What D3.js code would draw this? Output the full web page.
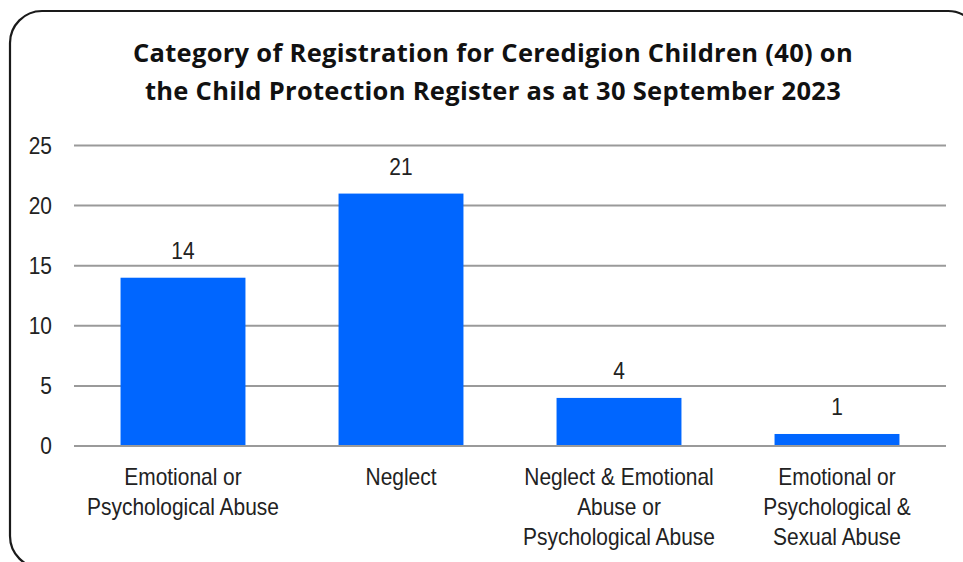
<!DOCTYPE html>
<html>
<head>
<meta charset="utf-8">
<script src="https://cdn.jsdelivr.net/npm/d3@7"></script>
<style>
  body { margin: 0; background: #fff; }
  svg { display: block; }
</style>
</head>
<body>
<div id="chart"></div>
<script>
var categories = [
  ["Emotional or", "Psychological Abuse"],
  ["Neglect"],
  ["Neglect & Emotional", "Abuse or", "Psychological Abuse"],
  ["Emotional or", "Psychological &", "Sexual Abuse"]
];
var values = [14, 21, 4, 1];
var yTicks = [0, 5, 10, 15, 20, 25];
var titleLines = [
  "Category of Registration for Ceredigion Children (40) on",
  "the Child Protection Register as at 30 September 2023"
];

var width = 963, height = 562;
// no narrow font installed, so squeeze Liberation Sans horizontally
var narrow = "'Liberation Sans', Arial, sans-serif";
var fontSize = "23px";
var squeeze = 0.91;

var svg = d3.select("#chart").append("svg")
  .attr("width", width).attr("height", height);

// chart frame, runs off the right and bottom edges
svg.append("rect")
  .attr("x", 10).attr("y", 11)
  .attr("width", 970).attr("height", 557)
  .attr("rx", 32).attr("ry", 32)
  .attr("fill", "#fff")
  .attr("stroke", "#1a1a1a")
  .attr("stroke-width", 2.2);

svg.append("g").selectAll("text")
  .data(titleLines)
  .enter().append("text")
  .attr("x", 493)
  .attr("y", function(d, i) { return 62 + i * 38; })
  .attr("text-anchor", "middle")
  .style("font-family", "'Open Sans', 'Noto Sans', sans-serif")
  .style("font-weight", "bold")
  .style("font-size", "25.5px")
  .style("letter-spacing", "0.3px")
  .attr("fill", "#111")
  .text(function(d) { return d; });

var x = d3.scaleBand()
  .domain(d3.range(values.length))
  .range([74, 946])
  .paddingInner(0.427)
  .paddingOuter(0.2135);

var y = d3.scaleLinear().domain([0, 25]).range([446, 145.5]);

// gridlines
svg.append("g").selectAll("line")
  .data(yTicks)
  .enter().append("line")
  .attr("x1", 74).attr("x2", 946)
  .attr("y1", function(d) { return y(d); })
  .attr("y2", function(d) { return y(d); })
  .attr("stroke", "#9a9a9a")
  .attr("stroke-width", 2);

// y axis labels
svg.append("g").selectAll("text")
  .data(yTicks)
  .enter().append("text")
  .attr("transform", function(d) { return "translate(52," + y(d) + ") scale(" + squeeze + ",1)"; })
  .attr("dy", "0.35em")
  .attr("text-anchor", "end")
  .style("font-family", narrow)
  .style("font-size", fontSize)
  .attr("fill", "#222")
  .text(function(d) { return d; });

// bars
svg.append("g").selectAll("rect")
  .data(values)
  .enter().append("rect")
  .attr("x", function(d, i) { return x(i); })
  .attr("width", x.bandwidth())
  .attr("y", function(d) { return y(d); })
  .attr("height", function(d) { return y(0) - y(d) - 1; })
  .attr("fill", "#0066ff");

// value labels
svg.append("g").selectAll("text")
  .data(values)
  .enter().append("text")
  .attr("transform", function(d, i) {
    return "translate(" + (x(i) + x.bandwidth() / 2) + "," + (y(d) - 19) + ") scale(" + squeeze + ",1)";
  })
  .attr("text-anchor", "middle")
  .style("font-family", narrow)
  .style("font-size", fontSize)
  .attr("fill", "#222")
  .text(function(d) { return d; });

// category labels
var cats = svg.append("g").selectAll("text")
  .data(categories)
  .enter().append("text")
  .attr("transform", function(d, i) {
    return "translate(" + (x(i) + x.bandwidth() / 2) + ",0) scale(" + squeeze + ",1)";
  })
  .attr("text-anchor", "middle")
  .style("font-family", narrow)
  .style("font-size", fontSize)
  .attr("fill", "#222");
cats.selectAll("tspan")
  .data(function(d) { return d; })
  .enter().append("tspan")
  .attr("x", 0)
  .attr("y", function(d, j) { return 485 + j * 30; })
  .text(function(d) { return d; });
</script>
</body>
</html>
